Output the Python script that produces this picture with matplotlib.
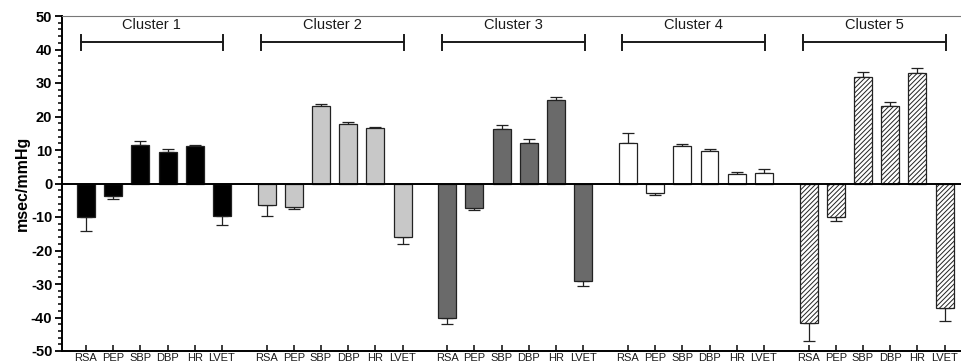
import numpy as np
import matplotlib
matplotlib.use("Agg")
import matplotlib.pyplot as plt
from matplotlib.ticker import MultipleLocator

plt.rcParams['font.family'] = ['Liberation Sans', 'DejaVu Sans']
plt.rcParams['hatch.linewidth'] = 0.7
plt.rcParams['axes.unicode_minus'] = False

measures = ["RSA", "PEP", "SBP", "DBP", "HR", "LVET"]
clusters = ["Cluster 1", "Cluster 2", "Cluster 3", "Cluster 4", "Cluster 5"]

c1_mean = [-9.9, -3.7, 11.5, 9.5, 11.1, -9.8]
c1_err = [4.4, 0.9, 1.2, 0.9, 0.4, 2.7]
c2_mean = [-6.5, -6.9, 23.0, 17.7, 16.5, -16.1]
c2_err = [3.1, 0.7, 0.8, 0.8, 0.5, 2.0]
c3_mean = [-40.0, -7.3, 16.3, 12.1, 25.0, -29.0]
c3_err = [2.0, 0.7, 1.2, 1.1, 0.7, 1.5]
c4_mean = [12.0, -2.9, 11.1, 9.6, 2.8, 3.2]
c4_err = [3.0, 0.6, 0.7, 0.6, 0.7, 1.1]
c5_mean = [-41.5, -10.1, 31.7, 23.1, 33.1, -37.2]
c5_err = [5.4, 1.0, 1.5, 1.1, 1.5, 3.8]

means = [c1_mean, c2_mean, c3_mean, c4_mean, c5_mean]
errs = [c1_err, c2_err, c3_err, c4_err, c5_err]
facecolors = ["#000000", "#c8c8c8", "#6a6a6a", "#ffffff", "#ffffff"]
hatches = [None, None, None, None, "///////"]

W, H = 962, 364
fig = plt.figure(figsize=(W / 100, H / 100), dpi=100)
ax = fig.add_axes([62 / W, 13 / H, 1 - 62 / W, (351 - 16) / H])

cluster_step = 6.64
bar_w = 0.66
xticks, xlabels = [], []
for ci in range(len(clusters)):
    x = ci * cluster_step + np.arange(len(measures))
    m = np.array(means[ci])
    e = np.array(errs[ci])
    lower = np.where(m < 0, e, 0)
    upper = np.where(m > 0, e, 0)
    ax.bar(x, m, width=bar_w, color=facecolors[ci], edgecolor="#222222",
           linewidth=0.9, hatch=hatches[ci], zorder=3)
    ax.errorbar(x, m, yerr=[lower, upper], fmt="none", ecolor="#222222",
                elinewidth=0.9, capsize=4, capthick=0.9, zorder=2)
    xticks.extend(x)
    xlabels.extend(measures)
    # bracket
    x0, x1 = x[0] - 0.2, x[-1] + 0.05
    yb = 42.3
    ax.plot([x0, x1], [yb, yb], color="#1a1a1a", lw=1.4, zorder=3)
    ax.plot([x0, x0], [40.0, 44.2], color="#1a1a1a", lw=1.4, zorder=3)
    ax.plot([x1, x1], [40.0, 44.2], color="#1a1a1a", lw=1.4, zorder=3)
    ax.text((x0 + x1) / 2, 45.2, clusters[ci], ha="center", va="bottom",
            fontsize=10.5, color="#1a1a1a")

ax.axhline(0, color="#000000", lw=1.4, zorder=4)

ax.set_xlim(-0.88, 32.2)
ax.set_ylim(-50, 50)
ax.set_xticks(xticks)
ax.set_xticklabels(xlabels, fontsize=8)
ax.tick_params(axis="x", direction="in", length=4, width=1.2, pad=1.2,
               colors="#1a1a1a")
ax.yaxis.set_major_locator(MultipleLocator(10))
ax.yaxis.set_minor_locator(MultipleLocator(2))
ax.tick_params(axis="y", which="major", direction="out", length=5, width=1.3,
               labelsize=10.5, pad=2)
ax.tick_params(axis="y", which="minor", direction="out", length=3, width=1.1)
for lbl in ax.get_yticklabels():
    lbl.set_fontweight("bold")
ax.set_ylabel("msec/mmHg", fontsize=11.5, fontweight="bold", labelpad=1)

ax.spines["left"].set_linewidth(1.4)
ax.spines["bottom"].set_linewidth(1.4)
ax.spines["top"].set_linewidth(0.8)
ax.spines["top"].set_color("#777777")
ax.spines["right"].set_visible(False)

fig.savefig("out.png", dpi=100)
